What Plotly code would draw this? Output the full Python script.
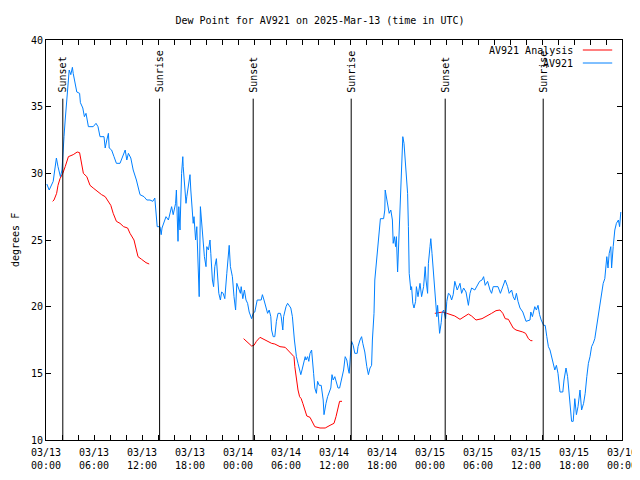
import pandas as pd
import plotly.graph_objects as go

BASE = pd.Timestamp("2025-03-13 00:00")

# Observed dew point (AV921): hours since 03/13 00:00 UTC, degrees F
obs_hours = [0.1, 0.4, 0.9, 1.25, 1.3, 1.5, 1.8, 2.0, 2.1, 2.25, 2.4, 2.6, 2.8, 2.9, 3.1, 3.3, 3.4, 3.6, 3.85,
             4.2, 4.3, 4.6, 4.8, 5.0, 5.3, 5.9, 6.25, 6.5, 6.75, 7.25, 7.4, 7.6, 7.8, 7.9, 8.2, 8.5, 8.8, 9.25,
             9.6, 9.9, 10.1, 10.3, 10.6, 10.9, 11.3, 11.75, 12.25, 12.6, 13.0, 13.35, 13.6, 13.75, 13.9, 14.25,
             14.4, 14.5, 14.8, 15.0, 15.3, 15.5, 15.7, 15.9, 16.2, 16.3, 16.5, 16.6, 16.75, 16.95, 17.1, 17.15,
             17.3, 17.5, 17.6, 17.8, 18.0, 18.1, 18.3, 18.4, 18.5, 18.7, 18.85, 19.05, 19.15, 19.3, 19.45, 19.6,
             19.8, 20.0, 20.1, 20.3, 20.5, 20.6, 20.8, 20.95, 21.1, 21.3, 21.45, 21.6, 21.8, 21.95, 22.15, 22.35,
             22.6, 22.8, 22.9, 23.05, 23.3, 23.5, 23.7, 23.85, 24.05, 24.3, 24.4, 24.6, 24.8, 25.0, 25.2, 25.4,
             25.7, 25.9, 26.1, 26.4, 26.9, 27.05, 27.25, 27.5, 27.7, 27.9, 28.1, 28.2, 28.4, 28.6, 28.8, 29.0,
             29.3, 29.4, 29.5, 29.6, 29.7, 30.0, 30.2, 30.4, 30.6, 30.8, 30.9, 31.05, 31.2, 31.3, 31.5, 31.65,
             31.85, 32.0, 32.2, 32.4, 32.5, 32.7, 32.85, 33.0, 33.2, 33.3, 33.45, 33.6, 33.8, 33.95, 34.15, 34.4,
             34.55, 34.65, 34.75, 34.9, 35.0, 35.2, 35.4, 35.6, 35.75, 35.9, 36.1, 36.3, 36.5, 36.7, 36.9, 37.2,
             37.4, 37.6, 37.8, 37.9, 38.1, 38.2, 38.4, 38.6, 38.9, 39.0, 39.25, 39.45, 39.6, 39.85, 40.1, 40.3,
             40.5, 40.7, 40.8, 41.0, 41.1, 41.3, 41.5, 41.65, 41.8, 42.2, 42.35, 42.4, 42.5, 42.7, 42.9, 43.1,
             43.3, 43.4, 43.55, 43.7, 43.8, 43.95, 44.1, 44.3, 44.45, 44.6, 44.75, 44.85, 45.0, 45.2, 45.3, 45.4,
             45.6, 45.7, 45.85, 46.0, 46.2, 46.3, 46.5, 46.75, 46.95, 47.2, 47.4, 47.5, 47.7, 47.8, 48.0, 48.1,
             48.25, 48.4, 48.5, 48.75, 48.85, 48.95, 49.1, 49.2, 49.4, 49.5, 49.7, 49.85, 49.95, 50.1, 50.3, 50.5,
             50.7, 50.9, 51.1, 51.4, 51.75, 51.95, 52.2, 52.5, 52.8, 53.0, 53.2, 53.6, 53.8, 54.2, 54.5, 54.7,
             54.9, 55.2, 55.5, 55.7, 55.9, 56.5, 56.8, 57.1, 57.4, 57.7, 57.9, 58.2, 58.4, 58.6, 58.8, 59.0,
             59.25, 59.6, 59.8, 60.0, 60.5, 60.6, 60.8, 60.9, 61.1, 61.3, 61.5, 61.7, 61.9, 62.2, 62.4, 62.6,
             62.8, 63.0, 63.2, 63.4, 63.6, 63.8, 64.0, 64.25, 64.6, 64.75, 65.0, 65.2, 65.3, 65.5, 65.7, 65.9,
             66.1, 66.3, 66.5, 66.75, 66.95, 67.2, 67.4, 67.6, 67.8, 68.0, 68.2, 68.4, 68.6, 68.8, 69.0, 69.25,
             69.45, 69.65, 69.85, 70.0, 70.1, 70.25, 70.4, 70.6, 70.7, 70.9, 71.1, 71.3, 71.55, 71.7, 71.85]
obs_values = [29.2, 28.75, 29.4, 30.8, 31.15, 30.5, 29.75, 30.25, 31.75, 32.75, 34.0, 35.5, 37.0, 37.75, 37.4, 37.95, 37.5, 36.8, 36.1,
              36.0, 35.3, 34.9, 34.25, 34.5, 33.5, 33.5, 33.75, 33.5, 32.75, 32.75, 31.9, 32.5, 33.0, 31.9, 31.75, 31.25, 30.75, 30.75,
              31.25, 31.75, 31.0, 31.5, 31.15, 30.25, 29.5, 28.4, 28.25, 28.0, 28.0, 27.9, 28.15, 27.25, 26.0, 26.0,
              25.4, 25.9, 26.5, 26.75, 26.5, 27.1, 27.5, 26.9, 27.75, 28.75, 24.9, 27.5, 25.75, 30.0, 31.25, 30.5,
              29.0, 27.75, 28.25, 29.0, 29.9, 28.75, 27.0, 26.25, 26.75, 25.0, 26.0, 22.25, 20.75, 27.5, 26.5, 25.0,
              23.75, 23.0, 24.5, 24.25, 25.0, 24.0, 22.0, 21.5, 23.0, 23.6, 22.25, 21.0, 20.5, 21.1, 21.0, 20.6,
              22.5, 24.5, 24.6, 23.0, 22.25, 20.75, 19.75, 21.75, 21.4, 21.0, 21.5, 20.6, 21.25, 20.5, 20.25, 19.6,
              19.1, 19.5, 19.6, 20.5, 20.5, 20.9, 20.5, 20.0, 19.5, 19.75, 19.25, 18.25, 17.75, 17.75, 18.9, 19.5,
              19.5, 19.25, 18.5, 18.25, 19.25, 20.0, 20.25, 20.1, 19.9, 19.25, 18.25, 17.5, 16.75, 16.25, 15.75, 15.25,
              14.9, 15.25, 15.75, 16.25, 16.0, 16.25, 15.9, 16.5, 16.75, 15.75, 15.0, 13.9, 13.5, 14.4, 14.1, 14.1,
              13.5, 13.0, 11.9, 12.5, 12.75, 13.25, 13.6, 13.9, 14.9, 14.5, 14.75, 14.25, 13.9, 13.9, 14.5, 15.25,
              16.25, 16.0, 15.25, 15.0, 16.75, 17.4, 17.1, 16.5, 16.5, 17.0, 17.5, 17.75, 17.25, 16.6, 15.5, 14.9,
              15.4, 15.6, 17.5, 19.5, 22.0, 23.4, 24.25, 25.75, 26.6, 26.6, 27.25, 28.75, 28.4, 27.5, 27.0, 27.25,
              26.5, 24.75, 25.25, 24.5, 25.25, 22.6, 25.25, 27.5, 30.25, 32.75, 32.25, 31.4, 30.25, 28.5, 26.0, 22.5,
              21.25, 21.5, 20.25, 19.9, 20.4, 21.5, 20.75, 21.75, 20.75, 21.5, 23.0, 22.0, 21.0, 23.25, 24.5, 25.1,
              24.0, 22.75, 21.5, 20.0, 19.25, 20.1, 19.0, 18.0, 18.8, 19.5, 19.75, 19.25, 19.1, 20.4, 21.0, 20.9,
              20.5, 20.9, 21.9, 21.25, 21.75, 21.0, 21.4, 21.1, 20.1, 21.0, 21.4, 21.25, 21.5, 21.9, 22.0, 22.25,
              21.6, 21.9, 21.25, 21.0, 21.5, 21.5, 21.0, 21.5, 22.0, 21.5, 21.0, 21.25, 20.75, 20.5, 21.0, 20.4,
              19.9, 19.6, 19.25, 18.9, 19.0, 19.6, 19.25, 19.6, 20.0, 19.75, 20.1, 19.4, 19.0, 18.6, 18.6, 17.75,
              17.0, 16.75, 16.25, 15.6, 15.25, 15.6, 15.0, 13.6, 13.6, 14.5, 15.4, 14.75, 14.0, 12.75, 11.4, 11.4,
              13.1, 11.9, 12.5, 13.75, 12.25, 12.75, 13.5, 14.75, 15.75, 16.25, 17.0, 17.25, 17.6, 18.4, 19.25, 20.0,
              20.9, 21.75, 22.1, 23.25, 23.75, 22.9, 24.0, 24.5, 22.9, 24.5, 25.75, 26.25, 26.5, 26.0, 27.1]

# Analysis dew point (AV921 Analysis): three separate segments
ana_hours_1 = [0.83, 1.0, 1.33, 1.5, 1.75, 2.1, 2.4, 2.8, 3.4, 3.9, 4.2, 4.45, 4.67, 5.1, 5.5, 5.9, 6.5, 6.95, 7.4,
               7.8, 8.1, 8.4, 8.8, 9.25, 9.7, 10.2, 10.5, 11.0, 11.25, 11.5, 11.95, 12.5, 12.9]
ana_values_1 = [27.9, 28.0, 28.5, 29.1, 29.6, 30.0, 30.5, 31.25, 31.4, 31.6, 31.55, 30.75, 30.0, 29.75, 29.1, 28.9, 28.6, 28.4, 28.25,
                27.9, 27.6, 27.0, 26.4, 26.25, 26.0, 25.9, 25.5, 25.0, 24.4, 23.75, 23.55, 23.3, 23.2]
ana_hours_2 = [24.7, 25.3, 25.7, 26.0, 26.3, 26.75, 27.1, 27.6, 28.2, 28.6, 29.25, 29.9, 30.3, 30.7, 31.0, 31.1, 31.3,
               31.5, 31.7, 31.9, 32.1, 32.4, 32.6, 33.0, 33.3, 33.6, 34.25, 34.9, 35.5, 36.0, 36.25, 36.5, 36.7, 37.0]
ana_values_2 = [17.6, 17.25, 17.05, 17.1, 17.4, 17.7, 17.6, 17.4, 17.25, 17.2, 17.0, 16.95, 16.7, 16.5, 16.25, 15.5, 14.5,
                13.75, 13.25, 13.1, 12.75, 12.25, 11.8, 11.7, 11.4, 11.0, 10.9, 10.9, 11.1, 11.25, 11.75, 12.4, 12.9, 12.9]
ana_hours_3 = [48.6, 49.6, 50.1, 50.5, 51.1, 51.75, 52.2, 52.8, 53.2, 53.75, 54.5, 55.0, 55.7, 56.25, 56.75, 57.1, 57.4,
               57.8, 58.1, 58.4, 58.75, 59.1, 59.6, 59.95, 60.3, 60.6, 60.8]
ana_values_3 = [19.5, 19.6, 19.5, 19.4, 19.3, 19.05, 19.2, 19.45, 19.3, 19.0, 19.1, 19.25, 19.5, 19.7, 19.75, 19.5, 19.1,
                19.05, 18.75, 18.4, 18.25, 18.2, 18.1, 18.0, 17.6, 17.45, 17.45]

# Sun events (hours since 03/13 00:00 UTC)
sun_labels = ["Sunset", "Sunrise", "Sunset", "Sunrise", "Sunset", "Sunrise"]
sun_hours = [2.1, 14.2, 25.9, 38.15, 49.9, 62.15]

title_text = "Dew Point for AV921 on 2025-Mar-13 (time in UTC)"
y_title = "degrees F"
legend_names = ["AV921 Analysis", "AV921"]

RED = "#ff0000"
BLUE = "#0080ff"
FONT = "DejaVu Sans Mono"

# The page body has an 8px margin, so the figure is 8px smaller and the margins are shifted
FIG_W, FIG_H = 632, 472


def to_time(hours):
    return [BASE + pd.Timedelta(hours=h) for h in hours]


ana_x, ana_y = [], []
for hh, vv in [(ana_hours_1, ana_values_1), (ana_hours_2, ana_values_2), (ana_hours_3, ana_values_3)]:
    ana_x += to_time(hh) + [to_time([hh[-1] + 0.01])[0]]
    ana_y += list(vv) + [None]

fig = go.Figure()
fig.add_trace(go.Scatter(x=ana_x, y=ana_y, mode="lines", name=legend_names[0],
                         line=dict(color=RED, width=1), connectgaps=False, showlegend=False))
fig.add_trace(go.Scatter(x=to_time(obs_hours), y=obs_values, mode="lines", name=legend_names[1],
                         line=dict(color=BLUE, width=1), showlegend=False))

shapes = []
annotations = []
for lab, h in zip(sun_labels, sun_hours):
    t = BASE + pd.Timedelta(hours=h)
    shapes.append(dict(type="line", xref="x", yref="y", x0=t, x1=t, y0=10, y1=35.6,
                       line=dict(color="black", width=1)))
    annotations.append(dict(x=t, y=35.9, xref="x", yref="y", text=lab, textangle=-90,
                            showarrow=False, xanchor="center", yanchor="bottom",
                            font=dict(family=FONT, size=10, color="black")))

# gnuplot-style legend: text on the left, line sample on the right
for i, (name, col) in enumerate(zip(legend_names, [RED, BLUE])):
    py = 0.975 - i * 0.0325
    annotations.append(dict(x=0.918, y=py, xref="paper", yref="paper", text=name, showarrow=False,
                            xanchor="right", yanchor="middle",
                            font=dict(family=FONT, size=10, color="black")))
    shapes.append(dict(type="line", xref="paper", yref="paper", x0=0.932, x1=0.983, y0=py, y1=py,
                       line=dict(color=col, width=1)))

# y-axis title, placed like gnuplot's
annotations.append(dict(x=-0.0538, y=0.5, xref="paper", yref="paper", text=y_title, textangle=-90,
                        showarrow=False, xanchor="center", yanchor="middle",
                        font=dict(family=FONT, size=10, color="black")))

fig.update_layout(
    width=FIG_W, height=FIG_H,
    margin=dict(l=38, r=18, t=32, b=40, autoexpand=False),
    paper_bgcolor="white", plot_bgcolor="white",
    title=dict(text=title_text, x=312 / FIG_W, xref="container", xanchor="center",
               y=1 - 12 / FIG_H, yref="container", yanchor="middle", automargin=False,
               font=dict(family=FONT, size=10, color="black")),
    font=dict(family=FONT, size=10, color="black"),
    shapes=shapes, annotations=annotations,
    showlegend=False,
)
fig.update_xaxes(
    type="date", automargin=False,
    range=[BASE, BASE + pd.Timedelta(hours=72)],
    tick0=BASE, dtick=6 * 3600 * 1000, tickformat="%m/%d<br>%H:%M",
    ticks="inside", ticklen=5, tickcolor="black", ticklabelstandoff=3,
    minor=dict(dtick=2 * 3600 * 1000, ticks="inside", ticklen=5, tickcolor="black"),
    showline=True, linecolor="black", linewidth=1, mirror="ticks",
    showgrid=False, zeroline=False,
    tickfont=dict(family=FONT, size=10, color="black"),
)
fig.update_yaxes(
    range=[10, 40], dtick=5, tick0=10, automargin=False,
    ticks="inside", ticklen=5, tickcolor="black",
    showline=True, linecolor="black", linewidth=1, mirror="ticks",
    showgrid=False, zeroline=False,
    tickfont=dict(family=FONT, size=10, color="black"),
)

fig.write_html("out.html")
